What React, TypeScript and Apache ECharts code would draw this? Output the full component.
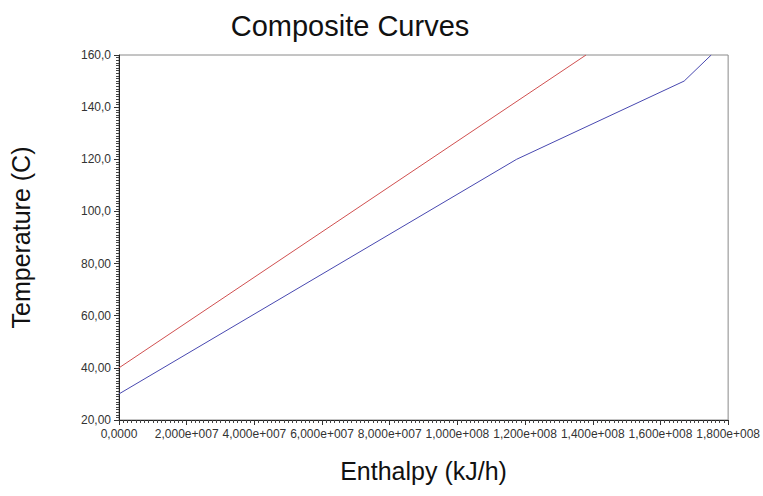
import React, { useEffect, useRef } from "react";
import * as echarts from "echarts";

const titleText = "Composite Curves";
const xAxisTitle = "Enthalpy (kJ/h)";
const yAxisTitle = "Temperature (C)";

// Hot composite curve (red): [enthalpy kJ/h, temperature C]
const hotCurve: [number, number][] = [
  [0, 40],
  [1.38e8, 160],
];
// Cold composite curve (blue)
const coldCurve: [number, number][] = [
  [0, 30],
  [1.175e8, 120],
  [1.67e8, 150],
  [1.75e8, 160],
];

const xMin = 0;
const xMax = 1.8e8;
const xStep = 2e7;
const yMin = 20;
const yMax = 160;
const yStep = 20;

function fmtY(v: number): string {
  const intDigits = Math.floor(Math.abs(v)).toString().length;
  const dec = Math.max(0, 4 - intDigits);
  return v.toFixed(dec).replace(".", ",");
}

function fmtX(v: number): string {
  if (v === 0) return "0,0000";
  const s = v.toExponential(3);
  const [mant, exp] = s.split("e");
  const sign = exp[0];
  const digits = exp.slice(1).padStart(3, "0");
  return mant.replace(".", ",") + "e" + sign + digits;
}

export default function App() {
  const ref = useRef<HTMLDivElement>(null);
  useEffect(() => {
    if (!ref.current) return;
    const chart = echarts.init(ref.current, undefined, { renderer: "svg" });
    const font = "'Liberation Sans', Arial, sans-serif";
    chart.setOption({
      animation: false,
      backgroundColor: "#ffffff",
      title: {
        text: titleText,
        left: 345,
        top: 6,
        textAlign: "center",
        textStyle: {
          fontFamily: font,
          fontSize: 29,
          fontWeight: "normal",
          color: "#111",
        },
      },
      grid: {
        left: 112,
        right: 34,
        top: 55,
        bottom: 76,
        show: true,
        borderColor: "#8a8a8a",
        borderWidth: 1,
        backgroundColor: "transparent",
      },
      xAxis: {
        type: "value",
        min: xMin,
        max: xMax,
        interval: xStep,
        name: xAxisTitle,
        nameLocation: "middle",
        nameGap: 38,
        nameTextStyle: { fontFamily: font, fontSize: 25, color: "#111", verticalAlign: "top" },
        axisLine: { show: true, onZero: false, lineStyle: { color: "#222", width: 1 } },
        axisTick: { show: true, inside: false, length: 5, lineStyle: { color: "#333" } },
        minorTick: { show: true, splitNumber: 16, length: 3, lineStyle: { color: "#444" } },
        splitLine: { show: false },
        axisLabel: {
          fontFamily: font,
          fontSize: 12,
          color: "#333",
          margin: 8,
          formatter: (v: number) => fmtX(v),
        },
      },
      yAxis: {
        type: "value",
        min: yMin,
        max: yMax,
        interval: yStep,
        name: yAxisTitle,
        nameLocation: "middle",
        nameGap: 86,
        nameRotate: 90,
        nameTextStyle: { fontFamily: font, fontSize: 25, color: "#111" },
        axisLine: { show: true, onZero: false, lineStyle: { color: "#222", width: 1 } },
        axisTick: { show: true, inside: false, length: 5, lineStyle: { color: "#333" } },
        minorTick: { show: true, splitNumber: 20, length: 3, lineStyle: { color: "#444" } },
        splitLine: { show: false },
        axisLabel: {
          fontFamily: font,
          fontSize: 12,
          color: "#333",
          margin: 8,
          formatter: (v: number) => fmtY(v),
        },
      },
      series: [
        {
          name: "Hot",
          type: "line",
          data: hotCurve,
          showSymbol: false,
          symbol: "none",
          clip: true,
          lineStyle: { color: "#d05050", width: 1 },
        },
        {
          name: "Cold",
          type: "line",
          data: coldCurve,
          showSymbol: false,
          symbol: "none",
          clip: true,
          lineStyle: { color: "#4848b0", width: 1 },
        },
      ],
    });
    return () => chart.dispose();
  }, []);
  return (
    <div
      ref={ref}
      style={{ position: "absolute", left: 0, top: 0, width: 763, height: 496 }}
    />
  );
}
